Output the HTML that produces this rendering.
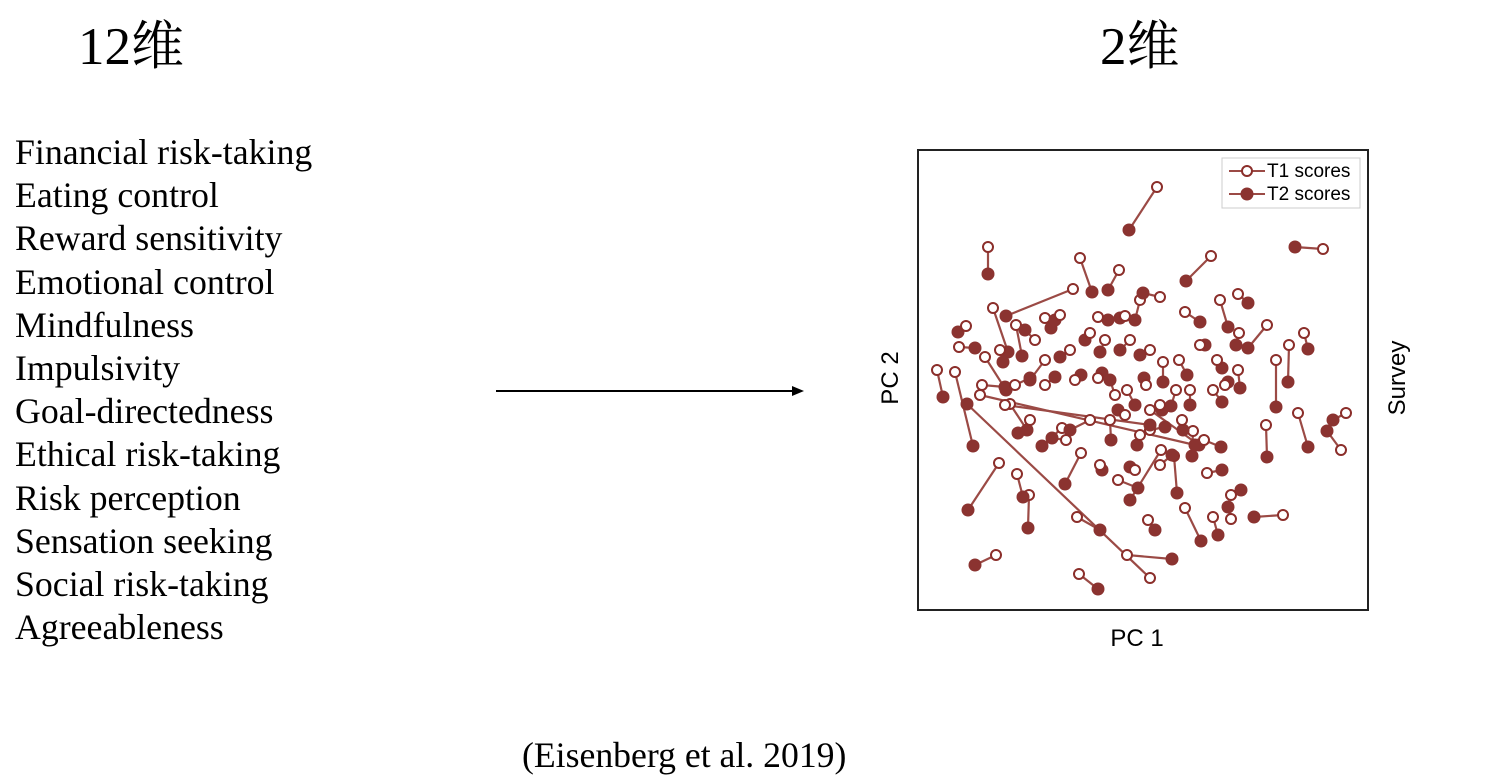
<!DOCTYPE html>
<html><head><meta charset="utf-8"><style>
body{margin:0;width:1489px;height:784px;background:#fff;position:relative;overflow:hidden;font-family:"Liberation Serif","Noto Serif CJK SC",serif;color:#000}
.t{position:absolute;white-space:nowrap}
#list div{font-size:35.8px;line-height:43.2px}
</style></head><body>
<div class="t" style="left:78px;top:4px;font-size:53px">12维</div>
<div class="t" style="left:1100px;top:4px;font-size:53px">2维</div>
<div id="list" class="t" style="left:15px;top:131px">
<div>Financial risk-taking</div>
<div>Eating control</div>
<div>Reward sensitivity</div>
<div>Emotional control</div>
<div>Mindfulness</div>
<div>Impulsivity</div>
<div>Goal-directedness</div>
<div>Ethical risk-taking</div>
<div>Risk perception</div>
<div>Sensation seeking</div>
<div>Social risk-taking</div>
<div>Agreeableness</div>
</div>
<div class="t" style="left:522px;top:734px;font-size:35.7px">(Eisenberg et al. 2019)</div>
<svg width="1489" height="784" style="position:absolute;left:0;top:0">
<g>
<line x1="496" y1="391" x2="795" y2="391" stroke="#000" stroke-width="2"/>
<polygon points="804,391 792,386 792,396" fill="#000"/>
</g>
<rect x="918" y="150" width="450" height="460" fill="#fff" stroke="#222" stroke-width="2"/>
<g id="marks"></g>
<text x="898" y="378" transform="rotate(-90 898 378)" text-anchor="middle" font-family="Liberation Sans,sans-serif" font-size="24">PC 2</text>
<text x="1405" y="378" transform="rotate(-90 1405 378)" text-anchor="middle" font-family="Liberation Sans,sans-serif" font-size="24">Survey</text>
<text x="1137" y="646" text-anchor="middle" font-family="Liberation Sans,sans-serif" font-size="24">PC 1</text>
<g>
<rect x="1222" y="158" width="138" height="50" fill="#fff" stroke="#ccc" stroke-width="1"/>
<line x1="1229" y1="171" x2="1265" y2="171" stroke="#9b4a45" stroke-width="2"/>
<circle cx="1247" cy="171" r="5" fill="#fff" stroke="#8b2e2a" stroke-width="2"/>
<text x="1267" y="177" font-family="Liberation Sans,sans-serif" font-size="19">T1 scores</text>
<line x1="1229" y1="194" x2="1265" y2="194" stroke="#9b4a45" stroke-width="2"/>
<circle cx="1247" cy="194" r="6.5" fill="#8b3330"/>
<text x="1267" y="200" font-family="Liberation Sans,sans-serif" font-size="19">T2 scores</text>
</g>
</svg>
<script>
const t1x=[14,180,-155,-63,-24,68,-70,-150,-177,-184,-127,95,96,124,161,146,133,155,203,198,123,140,88,70,88,-16,-64,-147,-66,-114,-144,-126,7,-206,-188,-133,-81,-62,18,7,31,42,5,33,61,50,-98,-83,-45,-18,-3,17,42,77,57,74,20,36,7,-13,-38,-53,-73,-98,-108,-143,-158,-161,-128,-98,-68,-45,-28,-16,3,17,47,70,95,82,-33,-18,-53,-77,-113,-3,7,39,-8,-25,-43,64,17,-138,-163];
const t1y=[193,131,133,122,110,124,91,72,54,33,55,86,47,55,47,35,20,-33,-33,-70,-45,-135,-115,-137,-139,-175,-194,-175,-137,-115,-83,-94,-198,10,8,-24,-48,-73,-70,-30,-76,-128,-140,-10,-60,-51,62,65,63,64,80,83,68,80,35,20,18,20,30,40,40,47,30,20,40,30,23,-5,-5,-5,0,2,-15,-10,-5,-25,-10,-10,10,-5,-40,-35,-40,-60,-40,-55,-50,-40,-90,-100,-85,-93,-85,-25,-15];
const t2x=[-14,152,-155,-51,-35,43,-137,-135,-185,-168,-121,105,93,105,165,145,133,165,190,184,124,111,98,75,85,29,-45,-168,-43,-115,-175,-120,-176,-200,-170,-116,-101,-78,-13,56,34,58,12,28,78,49,-92,-88,-35,-23,-8,0,57,85,62,79,20,44,-3,-23,-43,-58,-83,-113,-118,-140,-137,-138,-113,-88,-62,-41,-33,-8,1,19,47,79,97,85,-32,-25,-73,-91,-125,-6,22,40,-13,-5,-41,79,29,7,52];
const t2y=[150,133,106,88,90,99,64,28,48,32,24,77,35,32,31,-2,-27,-67,-40,-51,-77,-137,-110,-155,-127,-179,-209,-185,-150,-148,-130,-117,-24,-17,-66,-50,-66,-104,-120,-65,-113,-161,-150,-26,-67,-76,52,60,60,62,60,87,58,53,35,12,-2,5,25,30,28,40,23,0,50,18,-10,-7,2,3,5,7,0,-25,2,-30,-25,-22,-8,-2,-60,-30,-50,-58,-53,-65,-47,-50,-87,-108,-90,-90,-75,-45,-65];
const X0=918,X1=1368,Y0=610,Y1=150,DX=[-225,225],DY=[-230,230];
function sx(v){return X0+(v-DX[0])/(DX[1]-DX[0])*(X1-X0);}
function sy(v){return Y0+(v-DY[0])/(DY[1]-DY[0])*(Y1-Y0);}
const NS='http://www.w3.org/2000/svg',g=document.getElementById('marks');
const lines=document.createElementNS(NS,'g'),pts=document.createElementNS(NS,'g');
g.appendChild(lines);g.appendChild(pts);
for(let i=0;i<t1x.length;i++){
 const l=document.createElementNS(NS,'line');
 
 
 l.setAttribute('x1',sx(t1x[i]));l.setAttribute('y1',sy(t1y[i]));
 l.setAttribute('x2',sx(t2x[i]));l.setAttribute('y2',sy(t2y[i]));
 l.setAttribute('stroke','#9b4a45');l.setAttribute('stroke-width','2.2');
 lines.appendChild(l);
}
for(let i=0;i<t1x.length;i++){
 const c2=document.createElementNS(NS,'circle');
 
 
 c2.setAttribute('cx',sx(t2x[i]));c2.setAttribute('cy',sy(t2y[i]));c2.setAttribute('r','6.5');
 c2.setAttribute('fill','#8b3330');
 pts.appendChild(c2);
 const c1=document.createElementNS(NS,'circle');
 
 
 c1.setAttribute('cx',sx(t1x[i]));c1.setAttribute('cy',sy(t1y[i]));c1.setAttribute('r','5');
 c1.setAttribute('fill','#fff');c1.setAttribute('stroke','#8b2e2a');c1.setAttribute('stroke-width','2');
 pts.appendChild(c1);
}
</script>
</body></html>
